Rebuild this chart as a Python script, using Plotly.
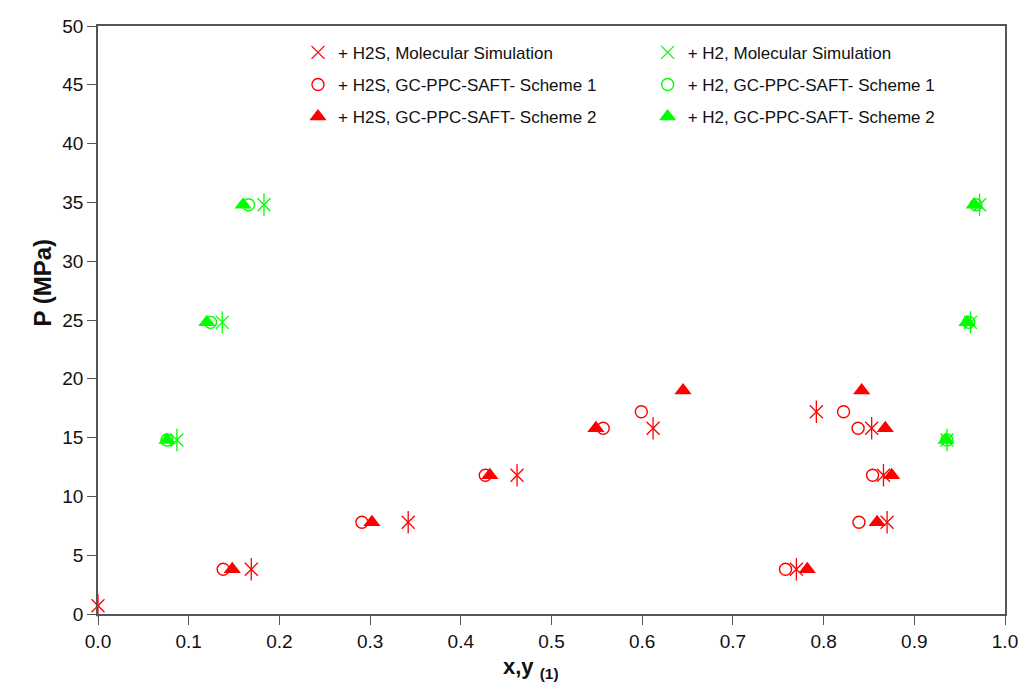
import plotly.graph_objects as go

# ---- data ----
h2s_ms_x = [0.0, 0.169, 0.342, 0.462, 0.612, 0.792, 0.853, 0.866, 0.870, 0.770]
h2s_ms_p = [0.7, 3.8, 7.8, 11.8, 15.8, 17.2, 15.8, 11.8, 7.8, 3.8]

h2s_s1_x = [0.138, 0.291, 0.427, 0.557, 0.599, 0.822, 0.838, 0.854, 0.839, 0.758]
h2s_s1_p = [3.8, 7.8, 11.8, 15.8, 17.2, 17.2, 15.8, 11.8, 7.8, 3.8]

h2s_s2_x = [0.148, 0.302, 0.432, 0.549, 0.645, 0.842, 0.868, 0.875, 0.859, 0.782]
h2s_s2_p = [3.8, 7.8, 11.8, 15.8, 19.0, 19.0, 15.8, 11.8, 7.8, 3.8]

h2_ms_x = [0.087, 0.137, 0.183, 0.936, 0.962, 0.972]
h2_ms_p = [14.8, 24.8, 34.8, 14.8, 24.8, 34.8]

h2_s1_x = [0.076, 0.124, 0.166, 0.936, 0.960, 0.968]
h2_s1_p = [14.8, 24.8, 34.8, 14.8, 24.8, 34.8]

h2_s2_x = [0.076, 0.120, 0.160, 0.935, 0.958, 0.966]
h2_s2_p = [14.8, 24.8, 34.8, 14.8, 24.8, 34.8]

labels = {
    "h2s_ms": "+ H2S, Molecular Simulation",
    "h2s_s1": "+ H2S, GC-PPC-SAFT- Scheme 1",
    "h2s_s2": "+ H2S, GC-PPC-SAFT- Scheme 2",
    "h2_ms": "+ H2, Molecular Simulation",
    "h2_s1": "+ H2, GC-PPC-SAFT- Scheme 1",
    "h2_s2": "+ H2, GC-PPC-SAFT- Scheme 2",
}

RED = "#FF0000"
GREEN = "#00FF00"
FONT = "Liberation Sans, Arial, sans-serif"

fig = go.Figure()


def asterisk(x, y, color, name, group, legend):
    fig.add_trace(go.Scatter(
        x=x, y=y, mode="markers", name=name, legendgroup=group, legend=legend,
        cliponaxis=False,
        marker=dict(symbol="x-thin-open", size=13, color=color,
                    line=dict(color=color, width=1.3))))
    fig.add_trace(go.Scatter(
        x=x, y=y, mode="markers", name=name, legendgroup=group, legend=legend,
        showlegend=False, cliponaxis=False,
        marker=dict(symbol="line-ns-open", size=16, color=color,
                    line=dict(color=color, width=1.3))))


def circles(x, y, color, name, group, legend):
    fig.add_trace(go.Scatter(
        x=x, y=y, mode="markers", name=name, legendgroup=group, legend=legend,
        cliponaxis=False,
        marker=dict(symbol="circle-open", size=12, color=color,
                    line=dict(color=color, width=1.4))))


def triangles(x, y, color, name, group, legend):
    fig.add_trace(go.Scatter(
        x=x, y=y, mode="markers", name=name, legendgroup=group, legend=legend,
        cliponaxis=False,
        marker=dict(symbol="triangle-up", size=15, color=color,
                    line=dict(width=0))))


asterisk(h2s_ms_x, h2s_ms_p, RED, labels["h2s_ms"], "a", "legend")
circles(h2s_s1_x, h2s_s1_p, RED, labels["h2s_s1"], "b", "legend")
triangles(h2s_s2_x, h2s_s2_p, RED, labels["h2s_s2"], "c", "legend")
asterisk(h2_ms_x, h2_ms_p, GREEN, labels["h2_ms"], "d", "legend2")
circles(h2_s1_x, h2_s1_p, GREEN, labels["h2_s1"], "e", "legend2")
triangles(h2_s2_x, h2_s2_p, GREEN, labels["h2_s2"], "f", "legend2")

legend_common = dict(
    yanchor="top", xanchor="left", bgcolor="rgba(0,0,0,0)",
    font=dict(family=FONT, size=17, color="#111"),
    traceorder="grouped", tracegroupgap=7, itemwidth=30,
)

axis_common = dict(
    showgrid=False, zeroline=False, showline=True, mirror=True,
    linecolor="#555555", linewidth=1.5, automargin=False,
    ticklabeloverflow="allow",
    ticks="outside", ticklen=9, tickwidth=1.3, tickcolor="#555555",
    tickfont=dict(family=FONT, size=19, color="#111"),
)

fig.update_layout(
    width=1018, height=684,
    margin=dict(l=98, r=13, t=26, b=70),
    paper_bgcolor="white", plot_bgcolor="white",
    font=dict(family=FONT),
    xaxis=dict(range=[0, 1], dtick=0.1, tickformat=".1f", **axis_common),
    yaxis=dict(range=[0, 50], dtick=5, **axis_common),
    legend=dict(x=0.2205, y=0.985, **legend_common),
    legend2=dict(x=0.606, y=0.985, **legend_common),
    annotations=[
        dict(text="<b>P (MPa)</b>", xref="paper", yref="paper",
             x=-0.0783, y=0.5646, textangle=-90, showarrow=False,
             font=dict(family=FONT, size=24, color="#111")),
        dict(text="<b>x,y <sub>(1)</sub></b>", xref="paper", yref="paper",
             x=0.4774, y=-0.119, showarrow=False,
             font=dict(family=FONT, size=22, color="#111")),
    ],
)

fig.write_html("out.html")
